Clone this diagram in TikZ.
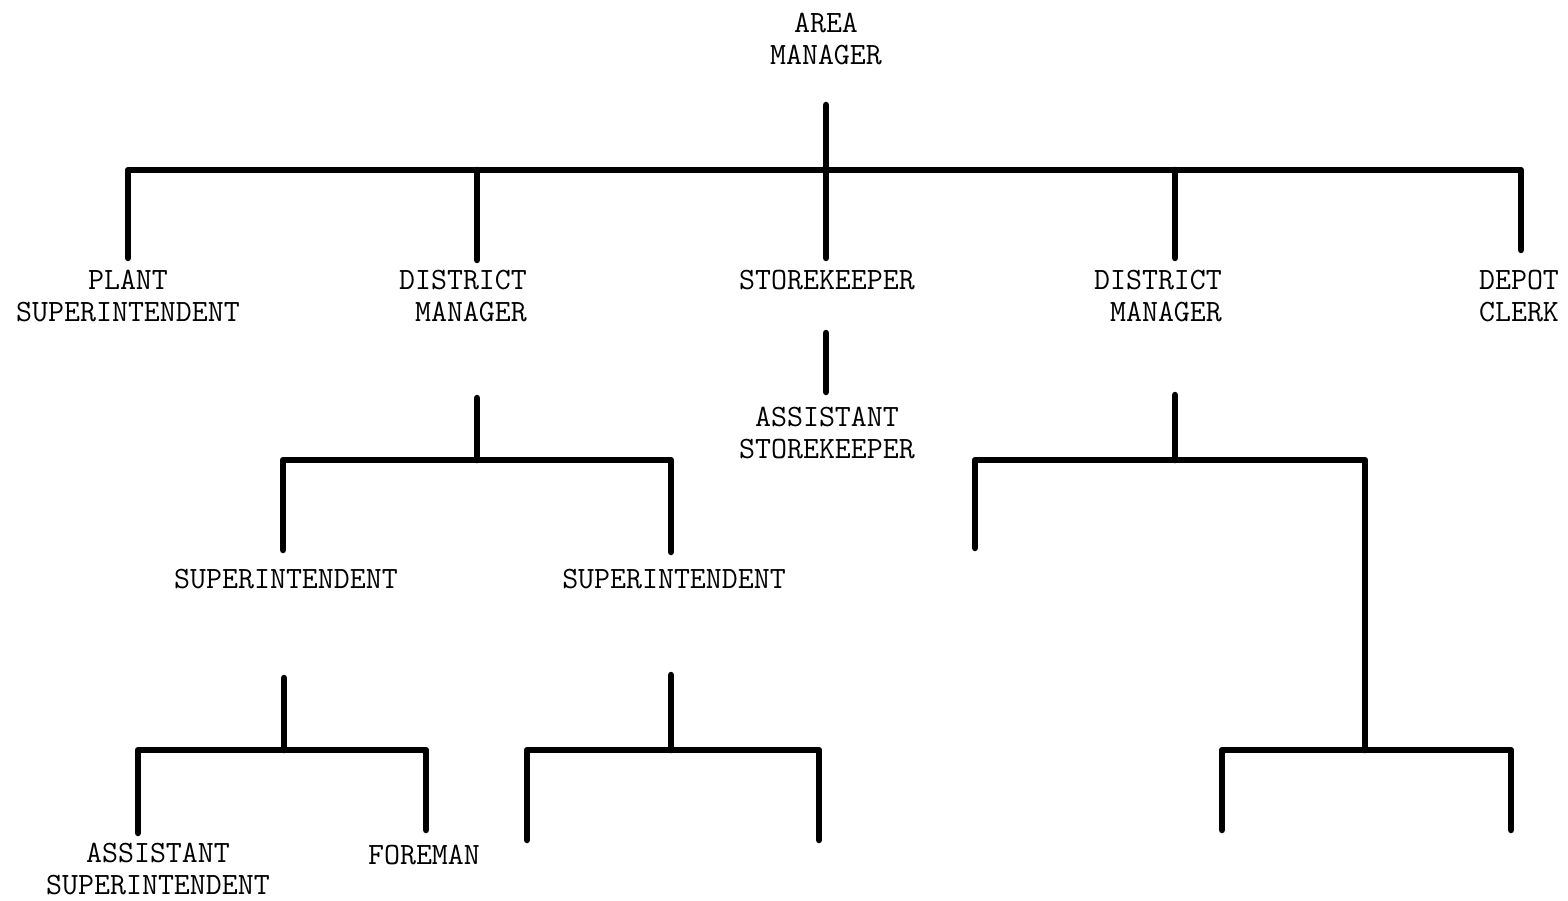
\documentclass[tikz,border=0pt]{standalone}
\begin{document}
\begin{tikzpicture}[x=1pt,y=-1pt,
  lab/.style={anchor=north, inner sep=0pt, font=\fontsize{31}{32}\selectfont\ttfamily, align=center},
  conn/.style={line width=6.5pt, line cap=round, line join=round}]
\useasboundingbox[fill=white] (0,0) rectangle (1568,901);
% labels
\node[lab] (am) at (826,13) {AREA\\MANAGER};
\node[lab] (ps) at (128,270) {PLANT\\SUPERINTENDENT};
\node[lab,align=right] (dm1) at (463,270) {DISTRICT\\MANAGER};
\node[lab] (sk) at (827,270) {STOREKEEPER};
\node[lab,align=right] (dm2) at (1158,270) {DISTRICT\\MANAGER};
\node[lab] (dc) at (1519,270) {DEPOT\\CLERK};
\node[lab] (ask) at (827,407) {ASSISTANT\\STOREKEEPER};
\node[lab] (su1) at (286,569) {SUPERINTENDENT};
\node[lab] (su2) at (674,569) {SUPERINTENDENT};
\node[lab] (asu) at (158,843) {ASSISTANT\\SUPERINTENDENT};
\node[lab] (fm) at (424,845) {FOREMAN};
% level 1
\coordinate (a0) at (826,105);
\coordinate (a1) at (826,258);
\coordinate (hL) at (128,170);
\coordinate (hR) at (1521,170);
\coordinate (d1) at (128,258);
\coordinate (d5) at (1521,250);
\coordinate (b2) at (477,170);
\coordinate (d2) at (477,260);
\coordinate (b4) at (1175,170);
\coordinate (d4) at (1175,258);
\draw[conn] (d1) -- (hL) -- (hR) -- (d5);
\draw[conn] (a0) -- (a1);
\draw[conn] (b2) -- (d2);
\draw[conn] (b4) -- (d4);
% storekeeper
\coordinate (s0) at (826,333);
\coordinate (s1) at (826,392);
\draw[conn] (s0) -- (s1);
% left district
\coordinate (l0) at (477,398);
\coordinate (l1) at (477,460);
\coordinate (l2) at (283,550);
\coordinate (l3) at (283,460);
\coordinate (l4) at (671,460);
\coordinate (l5) at (671,552);
\draw[conn] (l0) -- (l1);
\draw[conn] (l2) -- (l3) -- (l4) -- (l5);
% left sub
\coordinate (m0) at (284,678);
\coordinate (m1) at (284,750);
\coordinate (m2) at (138,833);
\coordinate (m3) at (138,750);
\coordinate (m4) at (426,750);
\coordinate (m5) at (426,830);
\draw[conn] (m0) -- (m1);
\draw[conn] (m2) -- (m3) -- (m4) -- (m5);
% right sub
\coordinate (n0) at (671,675);
\coordinate (n1) at (671,750);
\coordinate (n2) at (527,840);
\coordinate (n3) at (527,750);
\coordinate (n4) at (819,750);
\coordinate (n5) at (819,840);
\draw[conn] (n0) -- (n1);
\draw[conn] (n2) -- (n3) -- (n4) -- (n5);
% right district
\coordinate (r0) at (1175,395);
\coordinate (r1) at (1175,460);
\coordinate (r2) at (975,548);
\coordinate (r3) at (975,460);
\coordinate (r4) at (1365,460);
\coordinate (r5) at (1365,750);
\draw[conn] (r0) -- (r1);
\draw[conn] (r2) -- (r3) -- (r4) -- (r5);
\coordinate (q2) at (1222,830);
\coordinate (q3) at (1222,750);
\coordinate (q4) at (1511,750);
\coordinate (q5) at (1511,830);
\draw[conn] (q2) -- (q3) -- (q4) -- (q5);
\end{tikzpicture}
\end{document}
